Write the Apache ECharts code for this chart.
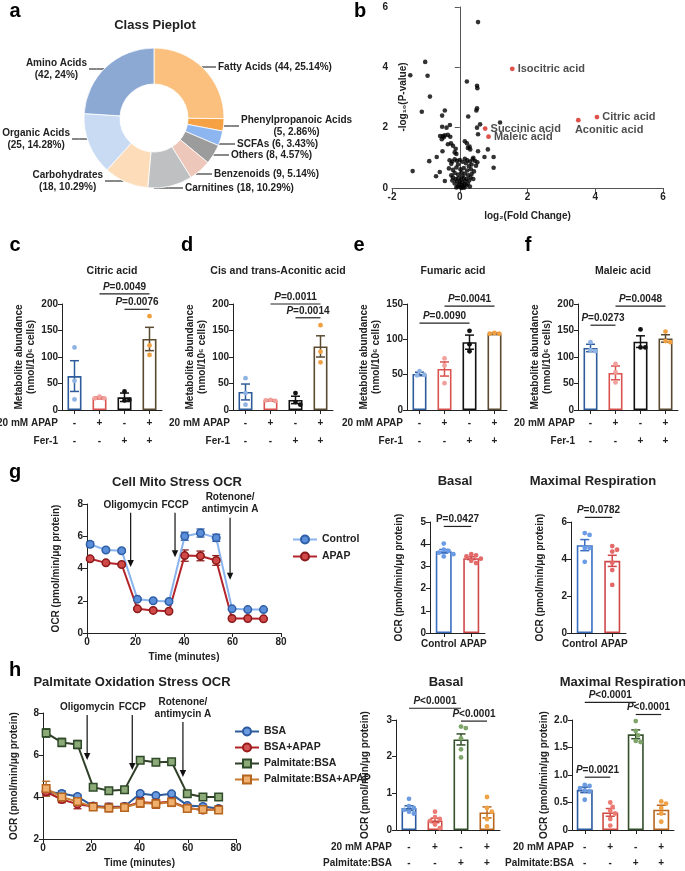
<!DOCTYPE html>
<html lang="en">
<head>
<meta charset="UTF-8" />
<title>Metabolomics figure</title>
<script src="https://cdn.jsdelivr.net/npm/echarts@6/dist/echarts.min.js"></script>
<style>
  html, body { margin: 0; padding: 0; background: #fff; }
  #main { width: 685px; height: 871px; }
</style>
</head>
<body>
<div id="main"></div>
<script>
// ---------- data ----------
// a: class pie
var pieNames = ['Fatty Acids', 'Phenylpropanoic Acids', 'SCFAs', 'Others', 'Benzenoids',
  'Carnitines', 'Carbohydrates', 'Organic Acids', 'Amino Acids'];
var pieCounts = [44, 5, 6, 8, 9, 18, 18, 25, 42];
var pieWrap = [false, true, false, false, false, false, true, true, true];

// b: volcano
var volcanoPoints = [
  [0.54, 5.5], [-1.02, 4.18], [-1.46, 3.74], [-0.95, 3.72], [0.21, 3.53], [0.51, 3.39], [0.52, 3.31],
  [-0.88, 3.03], [-1.12, 2.53], [-0.44, 2.57], [-0.52, 2.4], [0.51, 2.64], [0.49, 2.57], [0.25, 2.37],
  [1.19, 2.17], [0.6, 2.11], [-0.29, 2.09], [-0.52, 2.03], [0.51, 2.0], [-0.39, 2.0],
  [-0.58, 1.72], [-0.5, 1.72], [-0.44, 1.75], [-0.35, 1.76], [-0.28, 1.7], [-0.47, 1.68], [-0.53, 1.62],
  [0.54, 1.78], [-0.26, 1.48], [-0.15, 1.18], [-0.51, 1.22], [-0.68, 1.03], [0.21, 1.48], [0.29, 1.37],
  [0.24, 1.33], [0.31, 1.28], [0.54, 1.22], [0.83, 1.28], [0.73, 1.03], [1.0, 1.03], [-0.9, 0.89],
  [1.0, 0.67], [-1.39, 0.56], [-0.59, 0.53], [-0.7, 0.39], [-0.44, 0.23],
  [-0.35, 1.45], [-0.2, 1.4], [-0.1, 1.13], [-0.12, 1.3], [0.15, 1.55], [0.4, 1.0],
  [-0.3, 0.92], [-0.22, 0.88], [-0.15, 0.95], [-0.08, 0.9], [0.0, 0.93], [0.08, 0.87], [0.15, 0.97],
  [0.22, 0.92], [0.3, 0.88], [0.38, 0.95], [0.45, 0.9], [0.52, 0.85], [-0.25, 0.8], [0.18, 0.82],
  [0.35, 0.78], [0.48, 0.74], [-0.05, 0.78], [0.27, 0.72],
  [-0.32, 0.65], [-0.2, 0.6], [-0.1, 0.68], [0.02, 0.62], [0.12, 0.66], [0.22, 0.58], [0.33, 0.62],
  [0.42, 0.55], [-0.15, 0.5], [-0.05, 0.45], [0.05, 0.52], [0.15, 0.48], [0.25, 0.42], [0.35, 0.46],
  [-0.25, 0.42], [0.08, 0.4],
  [-0.2, 0.35], [-0.12, 0.3], [-0.04, 0.33], [0.04, 0.28], [0.12, 0.32], [0.2, 0.3], [0.28, 0.25],
  [-0.08, 0.22], [0.0, 0.2], [0.08, 0.18], [0.16, 0.22], [0.24, 0.15], [-0.15, 0.15], [-0.02, 0.12],
  [0.06, 0.1], [0.14, 0.12], [0.1, 0.05], [0.02, 0.03], [-0.06, 0.06], [0.2, 0.08], [0.3, 0.05],
  [-0.1, 0.02], [0.05, 0.0], [0.13, 0.01], [-0.22, 0.25], [0.32, 0.35], [0.4, 0.3]
];
var sigNames = ['Isocitric acid', 'Citric acid', 'Aconitic acid', 'Succinic acid', 'Maleic acid'];
var sigX = [1.55, 4.05, 3.5, 0.75, 0.85];
var sigY = [3.95, 2.35, 2.25, 1.97, 1.7];

// c-f: metabolite bars
var apapSigns = ['-', '+', '-', '+'];
var ferSigns = ['-', '-', '+', '+'];
var palmSigns = ['-', '-', '+', '+'];

var citricMean = [64, 23, 24, 134];
var citricSem = [29, 1.5, 8, 22];
var citricPts = [[118, 55, 20], [25, 22, 22], [35, 18, 19], [177, 122, 104]];
var citricSig = [[1, 3, 219], [2, 3, 190]];
var citricSigLab = ['P=0.0049', 'P=0.0076'];

var aconMean = [34, 18, 19, 120];
var aconSem = [15, 1.5, 7, 20];
var aconPts = [[60, 32, 10], [19, 17, 18], [32, 15, 10], [160, 110, 90]];
var aconSig = [[1, 3, 200], [2, 3, 174]];
var aconSigLab = ['P=0.0011', 'P=0.0014'];

var fumMean = [51, 58, 96, 108];
var fumSem = [2.5, 10, 10, 1];
var fumPts = [[55, 50, 49], [73, 63, 38], [112, 93, 83], [109, 108, 108]];
var fumSig = [[1, 3, 147], [0, 2, 123]];
var fumSigLab = ['P=0.0041', 'P=0.0090'];

var maleMean = [117, 70, 129, 135];
var maleSem = [7, 13, 11, 7];
var malePts = [[128, 113, 111], [87, 71, 52], [152, 118, 118], [148, 130, 128]];
var maleSig = [[1, 3, 196], [0, 1, 160]];
var maleSigLab = ['P=0.0048', 'P=0.0273'];

// g: cell mito stress
var times = [1.3, 7.8, 14.3, 20.8, 27.3, 33.8, 40.3, 46.8, 53.3, 59.8, 66.3, 72.8];
var gControl = [5.5, 5.15, 5.1, 2.1, 2.0, 1.95, 6.0, 6.2, 5.9, 1.5, 1.45, 1.45];
var gControlErr = [0.15, 0.1, 0.1, 0.08, 0.06, 0.06, 0.25, 0.25, 0.22, 0.08, 0.06, 0.06];
var gApap = [4.6, 4.35, 4.25, 1.5, 1.4, 1.35, 4.8, 4.78, 4.5, 0.9, 0.9, 0.88];
var gApapErr = [0.08, 0.08, 0.08, 0.06, 0.06, 0.06, 0.35, 0.3, 0.3, 0.05, 0.05, 0.05];
var injLabels = ['Oligomycin', 'FCCP', 'Rotenone/\nantimycin A'];
var gInjT = [18, 36.3, 59];
var gInjTop = [7.45, 7.45, 7.15];
var gInjEnd = [4.1, 4.7, 3.3];

var gCats = ['Control', 'APAP'];
var gBasalMean = [3.68, 3.37];
var gBasalSem = [0.08, 0.06];
var gBasalPts = [[4.03, 3.75, 3.7, 3.62, 3.55, 3.45], [3.55, 3.5, 3.45, 3.35, 3.25, 3.15]];
var gBasalSig = [[0, 1, 4.8]];
var gBasalSigLab = ['P=0.0427'];
var gMaxMean = [4.75, 3.9];
var gMaxSem = [0.3, 0.3];
var gMaxPts = [[5.4, 5.3, 4.6, 4.6, 3.85], [4.7, 4.5, 4.4, 3.8, 3.4, 2.6]];
var gMaxSig = [[0, 1, 6.25]];
var gMaxSigLab = ['P=0.0782'];

// h: palmitate oxidation stress
var hNames = ['BSA', 'BSA+APAP', 'Palmitate:BSA', 'Palmitate:BSA+APAP'];
var hBsa = [4.25, 4.17, 4.02, 3.57, 3.52, 3.55, 4.17, 4.07, 4.15, 3.6, 3.55, 3.45];
var hBsaErr = [0.15, 0.12, 0.1, 0.1, 0.1, 0.1, 0.08, 0.08, 0.08, 0.08, 0.1, 0.1];
var hBsaApap = [4.25, 3.88, 3.66, 3.55, 3.5, 3.52, 3.75, 3.72, 3.78, 3.48, 3.38, 3.42];
var hBsaApapErr = [0.2, 0.15, 0.22, 0.18, 0.2, 0.18, 0.22, 0.25, 0.22, 0.12, 0.15, 0.15];
var hPalm = [7.05, 6.6, 6.5, 4.47, 4.3, 4.35, 5.75, 5.65, 5.68, 4.15, 4.0, 4.0];
var hPalmErr = [0.2, 0.2, 0.2, 0.08, 0.06, 0.06, 0.1, 0.08, 0.08, 0.08, 0.08, 0.08];
var hPalmApap = [4.4, 4.0, 3.78, 3.52, 3.48, 3.5, 3.72, 3.68, 3.75, 3.45, 3.4, 3.38];
var hPalmApapErr = [0.35, 0.2, 0.18, 0.15, 0.15, 0.15, 0.2, 0.2, 0.2, 0.12, 0.12, 0.12];
var hInjT = [18.3, 37, 58];
var hInjTop = [7.9, 7.9, 7.57];
var hInjEnd = [5.76, 5.29, 4.95];

var hBasalMean = [0.6, 0.26, 2.47, 0.48];
var hBasalSem = [0.06, 0.06, 0.15, 0.15];
var hBasalPts = [[0.85, 0.65, 0.6, 0.55, 0.5, 0.45], [0.5, 0.35, 0.3, 0.25, 0.15, 0.05],
  [2.82, 2.78, 2.5, 2.2, 1.98], [0.9, 0.6, 0.5, 0.3, 0.1]];
var hBasalSig = [[0, 2, 3.32], [2, 3, 2.97]];
var hBasalSigLab = ['P<0.0001', 'P<0.0001'];
var hMaxMean = [0.73, 0.32, 1.74, 0.37];
var hMaxSem = [0.05, 0.07, 0.08, 0.08];
var hMaxPts = [[0.82, 0.8, 0.76, 0.72, 0.7, 0.55], [0.5, 0.42, 0.35, 0.3, 0.2, 0.08],
  [1.98, 1.8, 1.72, 1.62, 1.6], [0.52, 0.48, 0.4, 0.3, 0.15]];
var hMaxSig = [[0, 2, 2.32], [2, 3, 2.1], [0, 1, 0.96]];
var hMaxSigLab = ['P<0.0001', 'P<0.0001', 'P=0.0021'];

// ---------- styles ----------
var FONT = '"Liberation Sans", Arial, sans-serif';
var INK = '#222';
var pieColors = ['#FBC07E', '#F7A145', '#8DB6F0', '#9C9C9C', '#EDC8BA', '#BEC0C2', '#FDDDB9', '#C8DBF3', '#8CA9D4'];
// label placement for the pie (text edge x, centre y, side)
var pieLabelEdge = [218, 241, 237, 231, 214, 185, 103, 70, 87];
var pieLabelY = [67, 126, 144, 155, 174, 188, 181, 139, 69];
var pieLabelSide = ['r', 'r', 'r', 'r', 'r', 'r', 'l', 'l', 'l'];
var PIE_CX = 154, PIE_CY = 118, PIE_R = 70;

var metOutline = ['#2E5C9A', '#D9534F', '#111111', '#5A4A30'];
var metDots = ['#8FB3E3', '#F2A09B', '#111111', '#F0A040'];
var gOutline = ['#3A6EC0', '#D0474A'];
var gDots = ['#6A9BE6', '#E46A6A'];
var hOutline = ['#2B5AA0', '#CF4A43', '#33502A', '#B8651E'];
var hDots = ['#6C9BE0', '#EC7B74', '#7FA56B', '#F0A346'];

var chart = echarts.init(document.getElementById('main'));

var grids = [
  { left: 392, top: 7, width: 271, height: 181 },   // 0 volcano
  { left: 62, top: 304, width: 100, height: 106 },  // 1 citric
  { left: 233, top: 304, width: 100, height: 106 }, // 2 aconitic
  { left: 407, top: 304, width: 100, height: 106 }, // 3 fumaric
  { left: 578, top: 304, width: 100, height: 106 }, // 4 maleic
  { left: 87, top: 504, width: 194, height: 129 },  // 5 g line
  { left: 430, top: 522, width: 55, height: 111 },  // 6 g basal
  { left: 571, top: 522, width: 55, height: 111 },  // 7 g max
  { left: 43, top: 713, width: 193, height: 126 },  // 8 h line
  { left: 396, top: 720, width: 104, height: 111 }, // 9 h basal
  { left: 572, top: 720, width: 102, height: 111 }  // 10 h max
];

function axisBase(gi) {
  return {
    gridIndex: gi,
    axisLine: { show: true, onZero: false, lineStyle: { color: INK, width: 1 } },
    axisTick: { show: true, length: 4, lineStyle: { color: INK } },
    axisLabel: { fontFamily: FONT, fontWeight: 'bold', fontSize: 10, color: INK, margin: 4 },
    splitLine: { show: false },
    nameTextStyle: { fontFamily: FONT, fontWeight: 'bold', fontSize: 10, color: INK, lineHeight: 12 }
  };
}
function valAxis(gi, min, max, interval, extra) {
  var a = axisBase(gi);
  a.type = 'value'; a.min = min; a.max = max; a.interval = interval;
  return Object.assign(a, extra || {});
}
function catAxis(gi, cats, extra) {
  var a = axisBase(gi);
  a.type = 'category'; a.data = cats;
  a.axisTick.alignWithLabel = true;
  return Object.assign(a, extra || {});
}

var treatCats = apapSigns.map(function (s, i) { return s + '\n' + ferSigns[i]; });
var palmCats = apapSigns.map(function (s, i) { return s + '\n' + palmSigns[i]; });
// Control / APAP labels sit slightly apart, as in the source figure
var gCatItems = [
  { value: gCats[0], textStyle: { padding: [0, 10, 0, 0] } },
  { value: gCats[1], textStyle: { padding: [0, 0, 0, 4] } }
];
var rowLabel = { fontFamily: FONT, fontWeight: 'bold', fontSize: 10, color: INK, margin: 4, lineHeight: 18, interval: 0 };
var rowLabelH = { fontFamily: FONT, fontWeight: 'bold', fontSize: 10, color: INK, margin: 9, lineHeight: 16, interval: 0 };
var grpLabel = { fontFamily: FONT, fontWeight: 'bold', fontSize: 10, color: INK, margin: 6, interval: 0 };
var metName = 'Metabolite abundance\n(nmol/10\u2076 cells)';
var ocrName = 'OCR (pmol/min/\u03bcg protein)';

var xAxes = [
  valAxis(0, -2, 6, 2, { axisLine: { onZero: true, lineStyle: { color: '#555' } }, axisTick: { lineStyle: { color: '#555' } },
    name: 'log\u2082(Fold Change)', nameLocation: 'middle', nameGap: 22 }),
  catAxis(1, treatCats, { axisLabel: rowLabel }),
  catAxis(2, treatCats, { axisLabel: rowLabel }),
  catAxis(3, treatCats, { axisLabel: rowLabel }),
  catAxis(4, treatCats, { axisLabel: rowLabel }),
  valAxis(5, 0, 80, 20, { name: 'Time (minutes)', nameLocation: 'middle', nameGap: 18 }),
  catAxis(6, gCatItems, { axisLabel: grpLabel }),
  catAxis(7, gCatItems, { axisLabel: grpLabel }),
  valAxis(8, 0, 80, 20, { name: 'Time (minutes)', nameLocation: 'middle', nameGap: 18 }),
  catAxis(9, palmCats, { axisLabel: rowLabelH }),
  catAxis(10, palmCats, { axisLabel: rowLabelH })
];
var yAxes = [
  valAxis(0, 0, 6, 2, { axisLine: { onZero: true, lineStyle: { color: '#555' } }, axisTick: { lineStyle: { color: '#555' } } }),
  valAxis(1, 0, 200, 50, { name: metName, nameLocation: 'middle', nameGap: 22 }),
  valAxis(2, 0, 200, 50, { name: metName, nameLocation: 'middle', nameGap: 22 }),
  valAxis(3, 0, 150, 50, { name: metName, nameLocation: 'middle', nameGap: 22 }),
  valAxis(4, 0, 200, 50, { name: metName, nameLocation: 'middle', nameGap: 22 }),
  valAxis(5, 0, 8, 2, { name: ocrName, nameLocation: 'middle', nameGap: 25 }),
  valAxis(6, 0, 5, 1, { name: ocrName, nameLocation: 'middle', nameGap: 25 }),
  valAxis(7, 0, 6, 2, { name: ocrName, nameLocation: 'middle', nameGap: 25 }),
  valAxis(8, 2, 8, 2, { name: ocrName, nameLocation: 'middle', nameGap: 23 }),
  valAxis(9, 0, 3, 1, { name: ocrName, nameLocation: 'middle', nameGap: 25 }),
  valAxis(10, 0, 2, 0.5, { name: ocrName, nameLocation: 'middle', nameGap: 21,
    axisLabel: { fontFamily: FONT, fontWeight: 'bold', fontSize: 10, color: INK, margin: 4,
      formatter: function (v) { return v === 0 ? '0' : v.toFixed(1); } } })
];

var series = [];

// a: pie
series.push({
  type: 'pie', center: [PIE_CX, PIE_CY], radius: [34, PIE_R], startAngle: 90, clockwise: true,
  silent: true,
  data: pieNames.map(function (n, i) { return { name: n, value: pieCounts[i], itemStyle: { color: pieColors[i] } }; }),
  itemStyle: { borderColor: '#fff', borderWidth: 0.8 },
  label: {
    fontFamily: FONT, fontWeight: 'bold', fontSize: 10, color: INK, lineHeight: 12, overflow: 'none',
    formatter: function (p) {
      var s = '(' + p.value + ', ' + p.percent + '%)';
      return pieWrap[p.dataIndex] ? p.name + '\n' + s : p.name + ' ' + s;
    }
  },
  labelLine: { length: 6, length2: 14, lineStyle: { color: '#111', width: 1 } },
  labelLayout: function (p) {
    var i = p.dataIndex, y = pieLabelY[i], edge = pieLabelEdge[i], right = pieLabelSide[i] === 'r';
    var w = p.labelRect.width;
    var dy = y - PIE_CY, dx = Math.sqrt(Math.max(PIE_R * PIE_R - dy * dy, 0));
    var sx = right ? PIE_CX + dx : PIE_CX - dx;
    var ex = right ? edge - 2 : edge + 2;
    return {
      x: right ? edge + w / 2 : edge - w / 2, y: y, align: 'center', verticalAlign: 'middle',
      labelLinePoints: [[sx, y], [(sx + ex) / 2, y], [ex, y]]
    };
  }
});

// b: volcano
series.push({
  type: 'scatter', xAxisIndex: 0, yAxisIndex: 0, symbolSize: 4.6, silent: true,
  itemStyle: { color: '#000' }, data: volcanoPoints
});
series.push({
  type: 'scatter', xAxisIndex: 0, yAxisIndex: 0, symbolSize: 4.8, silent: true, z: 3,
  itemStyle: { color: '#D7261E' },
  label: { show: true, position: 'right', distance: 3, fontFamily: FONT, fontWeight: 'bold', fontSize: 11, color: INK,
    formatter: function (p) { return sigNames[p.dataIndex]; } },
  data: sigX.map(function (x, i) {
    var d = { value: [x, sigY[i]] };
    if (sigNames[i] === 'Aconitic acid') d.label = { position: [-1, 7], align: 'left', verticalAlign: 'top' };
    return d;
  })
});

// helpers for bar panels
function lineEl(x1, y1, x2, y2, c, w) {
  return { type: 'line', shape: { x1: x1, y1: y1, x2: x2, y2: y2 }, style: { stroke: c, lineWidth: w } };
}
function errSeries(gi, data, colorOf, cap, width, z) {
  return {
    type: 'custom', xAxisIndex: gi, yAxisIndex: gi, clip: false, silent: true, z: z, data: data,
    renderItem: function (params, api) {
      var x = api.value(0), m = api.value(1), e = api.value(2);
      var t = api.coord([x, m + e]), b = api.coord([x, m - e]);
      var c = colorOf(params.dataIndex);
      return { type: 'group', children: [
        lineEl(t[0], t[1], b[0], b[1], c, width),
        lineEl(t[0] - cap, t[1], t[0] + cap, t[1], c, width),
        lineEl(b[0] - cap, b[1], b[0] + cap, b[1], c, width)
      ] };
    }
  };
}
// simple beeswarm: nudge dots sideways until they no longer overlap
function swarm(groups, pxPerUnit, r) {
  var out = [];
  groups.forEach(function (vals, ci) {
    var placed = [];
    vals.forEach(function (v) {
      var y = v * pxPerUnit, k = 0, x = 0;
      while (true) {
        x = (k === 0) ? 0 : (k % 2 ? 1 : -1) * Math.ceil(k / 2) * r;
        var ok = placed.every(function (p) { return (p[0] - x) * (p[0] - x) + (p[1] - y) * (p[1] - y) >= 3.6 * r * r; });
        if (ok) break;
        k++;
      }
      placed.push([x, y]);
      out.push([ci, v, x]);
    });
  });
  return out;
}
function dotSeries(gi, pts, colors, pxPerUnit, r) {
  return {
    type: 'custom', xAxisIndex: gi, yAxisIndex: gi, clip: false, silent: true, z: 5,
    data: swarm(pts, pxPerUnit, r),
    renderItem: function (params, api) {
      var p = api.coord([api.value(0), api.value(1)]);
      return { type: 'circle', shape: { cx: p[0] + api.value(2), cy: p[1], r: r }, style: { fill: colors[api.value(0)] } };
    }
  };
}
function sigSeries(gi, sig, labels, italic) {
  return {
    type: 'custom', xAxisIndex: gi, yAxisIndex: gi, clip: false, silent: true, z: 6, data: sig,
    renderItem: function (params, api) {
      var a = api.coord([api.value(0), api.value(2)]);
      var b = api.coord([api.value(1), api.value(2)]);
      var lab = labels[params.dataIndex];
      return { type: 'group', children: [
        lineEl(a[0], a[1], b[0], b[1], INK, 1.2),
        { type: 'text', x: (a[0] + b[0]) / 2, y: a[1] - 2,
          style: { text: italic ? '{i|P}' + lab.slice(1) : lab, fill: INK, fontFamily: FONT, fontWeight: 'bold', fontSize: 10,
            align: 'center', verticalAlign: 'bottom',
            rich: { i: { fontStyle: 'italic', fontWeight: 'bold', fontSize: 10, fontFamily: FONT, fill: INK, color: INK } } } }
      ] };
    }
  };
}
function barPanel(gi, means, sems, pts, outline, dots, barW, pxPerUnit, sig, sigLab, italic) {
  series.push({
    type: 'bar', xAxisIndex: gi, yAxisIndex: gi, barWidth: barW, silent: true, z: 2,
    data: means.map(function (m, i) {
      return { value: m, itemStyle: { color: '#fff', borderColor: outline[i], borderWidth: 1.6 } };
    })
  });
  series.push(errSeries(gi, means.map(function (m, i) { return [i, m, sems[i]]; }),
    function (i) { return outline[i]; }, 4.5, 1.5, 4));
  series.push(dotSeries(gi, pts, dots, pxPerUnit, 2.4));
  series.push(sigSeries(gi, sig, sigLab, italic));
}

barPanel(1, citricMean, citricSem, citricPts, metOutline, metDots, 14, 106 / 200, citricSig, citricSigLab, true);
barPanel(2, aconMean, aconSem, aconPts, metOutline, metDots, 14, 106 / 200, aconSig, aconSigLab, true);
barPanel(3, fumMean, fumSem, fumPts, metOutline, metDots, 14, 106 / 150, fumSig, fumSigLab, true);
barPanel(4, maleMean, maleSem, malePts, metOutline, metDots, 14, 106 / 200, maleSig, maleSigLab, true);
barPanel(6, gBasalMean, gBasalSem, gBasalPts, gOutline, gDots, 16, 111 / 5, gBasalSig, gBasalSigLab, false);
barPanel(7, gMaxMean, gMaxSem, gMaxPts, gOutline, gDots, 16, 111 / 6, gMaxSig, gMaxSigLab, true);
barPanel(9, hBasalMean, hBasalSem, hBasalPts, hOutline, hDots, 15, 111 / 3, hBasalSig, hBasalSigLab, true);
barPanel(10, hMaxMean, hMaxSem, hMaxPts, hOutline, hDots, 16, 111 / 2, hMaxSig, hMaxSigLab, true);

// time courses
function timeSeries(gi, name, vals, errs, lineColor, fill, border, symbol) {
  series.push({
    type: 'line', name: name, xAxisIndex: gi, yAxisIndex: gi, silent: true, z: 3,
    data: times.map(function (t, i) { return [t, vals[i]]; }),
    symbol: symbol, symbolSize: 7.5,
    lineStyle: { color: lineColor, width: 2 },
    itemStyle: { color: fill, borderColor: border, borderWidth: 1.5 }
  });
  series.push(errSeries(gi, times.map(function (t, i) { return [t, vals[i], errs[i]]; }),
    function () { return border; }, 4, 1.3, 2));
}
function arrowSeries(gi, ts, tops, ends) {
  series.push({
    type: 'custom', xAxisIndex: gi, yAxisIndex: gi, clip: false, silent: true, z: 6,
    data: ts.map(function (t, i) { return [t, tops[i], ends[i]]; }),
    renderItem: function (params, api) {
      var a = api.coord([api.value(0), api.value(1)]);
      var b = api.coord([api.value(0), api.value(2)]);
      return { type: 'group', children: [
        lineEl(a[0], a[1], b[0], b[1] - 6, '#111', 1.2),
        { type: 'polygon', shape: { points: [[b[0] - 3.2, b[1] - 7], [b[0] + 3.2, b[1] - 7], [b[0], b[1]]] }, style: { fill: '#111' } },
        { type: 'text', x: a[0], y: a[1] - 2,
          style: { text: injLabels[params.dataIndex], fill: INK, fontFamily: FONT, fontWeight: 'bold', fontSize: 10,
            lineHeight: 12, align: 'center', verticalAlign: 'bottom' } }
      ] };
    }
  });
}

timeSeries(5, 'Control', gControl, gControlErr, '#8AB4EE', '#5B8FD9', '#2F5FA8', 'circle');
timeSeries(5, 'APAP', gApap, gApapErr, '#B3242A', '#D04848', '#8B1A1A', 'circle');
arrowSeries(5, gInjT, gInjTop, gInjEnd);

timeSeries(8, hNames[0], hBsa, hBsaErr, '#2E5C9A', '#6C9BE0', '#2B5AA0', 'circle');
timeSeries(8, hNames[1], hBsaApap, hBsaApapErr, '#B22222', '#D35555', '#9B1B1B', 'circle');
timeSeries(8, hNames[2], hPalm, hPalmErr, '#2F3F28', '#8CAA78', '#2F4A28', 'rect');
timeSeries(8, hNames[3], hPalmApap, hPalmApapErr, '#C77A30', '#F0B070', '#B5651D', 'rect');
arrowSeries(8, hInjT, hInjTop, hInjEnd);

// ---------- text ----------
function txt(x, y, text, size, align, extra) {
  return { type: 'text', x: x, y: y, silent: true,
    style: Object.assign({ text: text, fill: INK, fontFamily: FONT, fontWeight: 'bold', fontSize: size,
      align: align || 'center', verticalAlign: 'middle' }, extra || {}) };
}
var graphics = [];
[['a', 15, 11], ['b', 360, 11], ['c', 15, 245], ['d', 187, 245], ['e', 359, 245], ['f', 528, 245],
 ['g', 15, 472], ['h', 15, 670]].forEach(function (l) { graphics.push(txt(l[1], l[2], l[0], 20, 'center', { fill: '#000' })); });
graphics.push(txt(155, 25, 'Class Pieplot', 13));
// volcano y-axis title (axis line sits at x = 0, away from the grid edge)
var vName = txt(403, 97, '-log\u2081\u2080(P-value)', 10);
vName.rotation = Math.PI / 2;
graphics.push(vName);
graphics.push(txt(112, 271, 'Citric acid', 10.5));
graphics.push(txt(278, 271, 'Cis and trans-Aconitic acid', 10.5));
graphics.push(txt(453, 271, 'Fumaric acid', 10.5));
graphics.push(txt(623, 271, 'Maleic acid', 10.5));
graphics.push(txt(177, 482, 'Cell Mito Stress OCR', 13));
graphics.push(txt(455, 481, 'Basal', 13));
graphics.push(txt(593, 481, 'Maximal Respiration', 13));
graphics.push(txt(132, 682, 'Palmitate Oxidation Stress OCR', 13));
graphics.push(txt(446, 682, 'Basal', 13));
graphics.push(txt(623, 682, 'Maximal Respiration', 13));
[58, 230, 403, 575].forEach(function (x) {
  graphics.push(txt(x, 423, '20 mM APAP', 10, 'right'));
  graphics.push(txt(x, 441, 'Fer-1', 10, 'right'));
});
[392, 574].forEach(function (x) {
  graphics.push(txt(x, 847, '20 mM APAP', 10, 'right'));
  graphics.push(txt(x, 863, 'Palmitate:BSA', 10, 'right'));
});

var legendText = { fontFamily: FONT, fontWeight: 'bold', fontSize: 10.5, color: INK };

chart.setOption({
  animation: false,
  backgroundColor: '#fff',
  grid: grids,
  xAxis: xAxes,
  yAxis: yAxes,
  legend: [
    { data: ['Control', 'APAP'], left: 287, top: 529, orient: 'vertical', itemWidth: 24, itemHeight: 10, itemGap: 6,
      textStyle: legendText, selectedMode: false },
    { data: hNames, left: 229, top: 721, orient: 'vertical', itemWidth: 24, itemHeight: 10, itemGap: 5,
      textStyle: legendText, selectedMode: false }
  ],
  graphic: graphics,
  series: series
});
</script>
</body>
</html>
